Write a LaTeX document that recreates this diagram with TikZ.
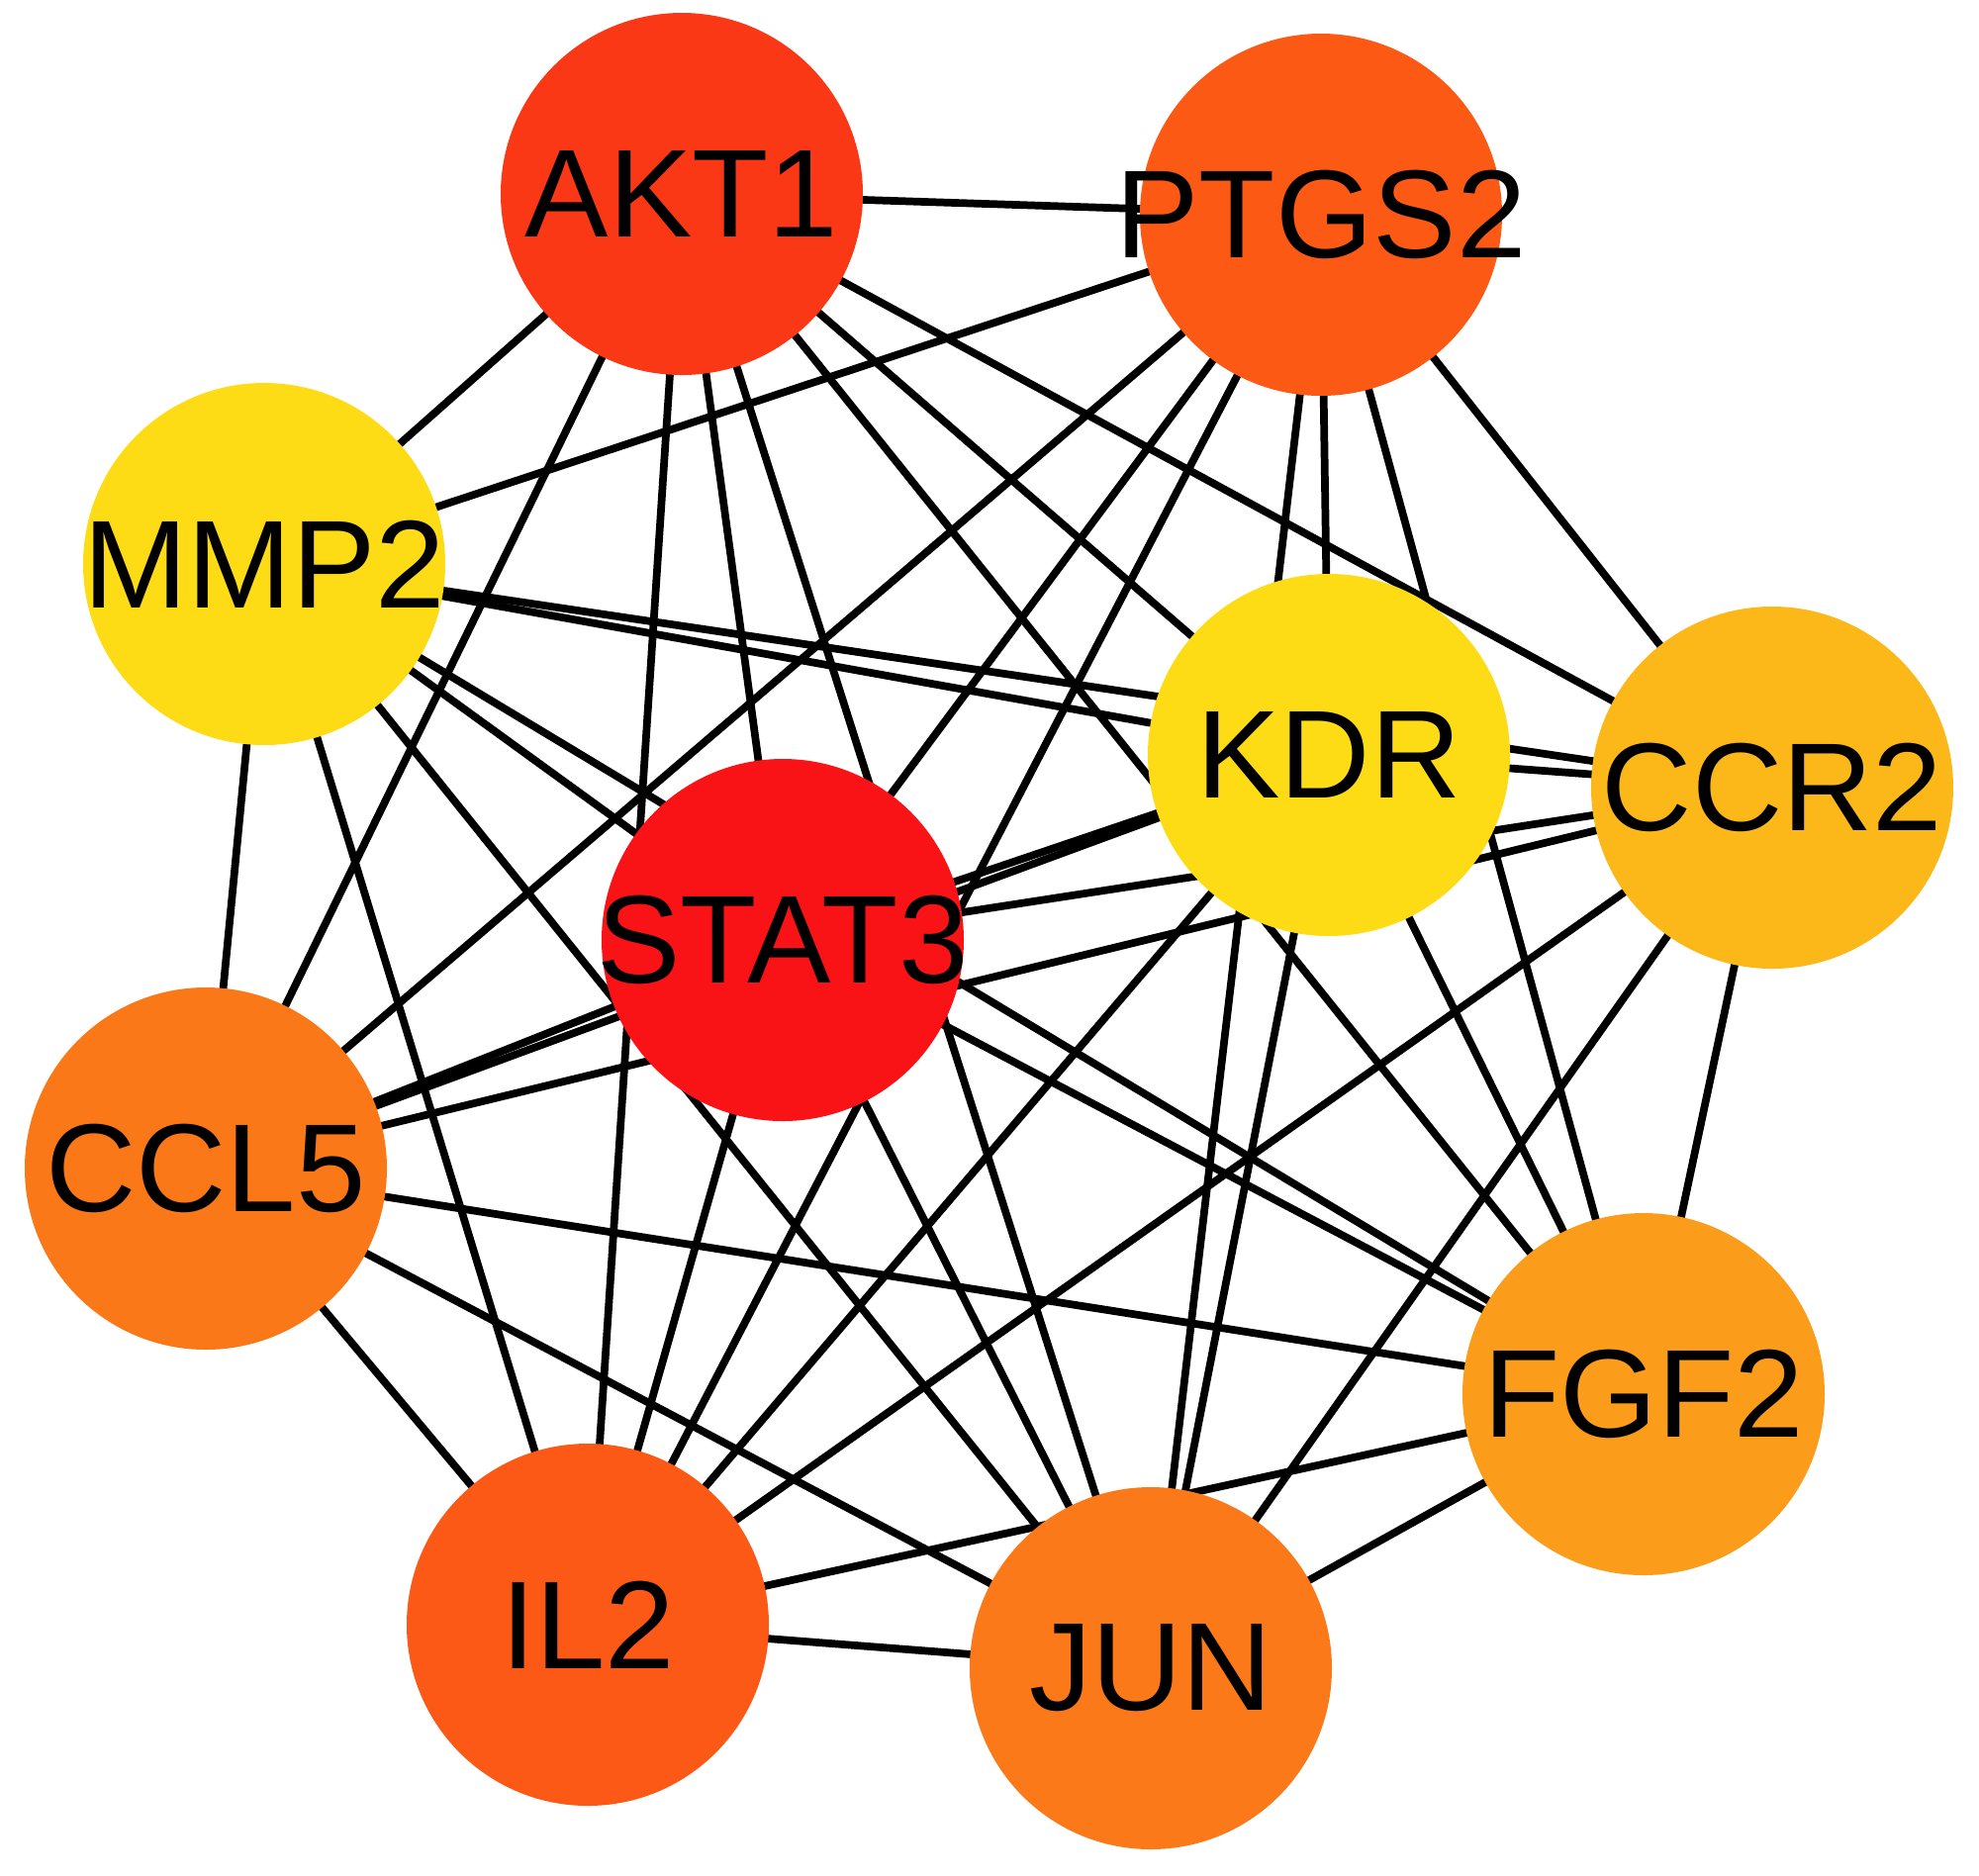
\documentclass[tikz,border=0pt]{standalone}
\usepackage{fontspec}
\setmainfont{Liberation Sans}
\usetikzlibrary{backgrounds}
\definecolor{cAKT}{RGB}{250,56,22}
\definecolor{cPTGS}{RGB}{252,89,20}
\definecolor{cMMP}{RGB}{253,220,22}
\definecolor{cKDR}{RGB}{253,220,22}
\definecolor{cCCR}{RGB}{251,184,24}
\definecolor{cSTAT}{RGB}{249,18,22}
\definecolor{cCCL}{RGB}{251,120,25}
\definecolor{cFGF}{RGB}{251,156,26}
\definecolor{cIL}{RGB}{252,88,22}
\definecolor{cJUN}{RGB}{251,121,25}
\begin{document}
\begin{tikzpicture}[
  gene/.style={circle, minimum size=3.66cm, inner sep=0pt, draw=none},
  genetext/.style={inner sep=0pt, text=black, font=\fontsize{36}{42}\selectfont},
  link/.style={line width=2.2pt, black}]
\useasboundingbox (0,0) rectangle (20,-18.95);
\node[gene, fill=cAKT]  (akt1)  at (6.89,-1.96) {};
\node[gene, fill=cPTGS] (ptgs2) at (13.35,-2.17) {};
\node[gene, fill=cMMP]  (mmp2)  at (2.67,-5.70) {};
\node[gene, fill=cKDR]  (kdr)   at (13.43,-7.63) {};
\node[gene, fill=cCCR]  (ccr2)  at (17.91,-7.96) {};
\node[gene, fill=cSTAT] (stat3) at (7.91,-9.50) {};
\node[gene, fill=cCCL]  (ccl5)  at (2.08,-11.81) {};
\node[gene, fill=cFGF]  (fgf2)  at (16.61,-14.09) {};
\node[gene, fill=cIL]   (il2)   at (5.94,-16.42) {};
\node[gene, fill=cJUN]  (jun)   at (11.63,-16.86) {};
\node[genetext] (akt1-t)  at (akt1)  {AKT1};
\node[genetext] (ptgs2-t) at (ptgs2) {PTGS2};
\node[genetext] (mmp2-t)  at (mmp2)  {MMP2};
\node[genetext] (kdr-t)   at (kdr)   {KDR};
\node[genetext] (ccr2-t)  at (ccr2)  {CCR2};
\node[genetext] (stat3-t) at (stat3) {STAT3};
\node[genetext] (ccl5-t)  at (ccl5)  {CCL5};
\node[genetext] (fgf2-t)  at (fgf2)  {FGF2};
\node[genetext] (il2-t)   at (il2)   {IL2};
\node[genetext] (jun-t)   at (jun)   {JUN};
\begin{pgfonlayer}{background}
\foreach \i/\a in {1/akt1,2/ptgs2,3/mmp2,4/kdr,5/ccr2,6/stat3,7/ccl5,8/fgf2,9/il2,10/jun}{
  \foreach \j/\b in {1/akt1,2/ptgs2,3/mmp2,4/kdr,5/ccr2,6/stat3,7/ccl5,8/fgf2,9/il2,10/jun}{
    \ifnum\i<\j \draw[link] (\a.center) -- (\b.center); \fi
  }
}
\end{pgfonlayer}
\end{tikzpicture}
\end{document}
